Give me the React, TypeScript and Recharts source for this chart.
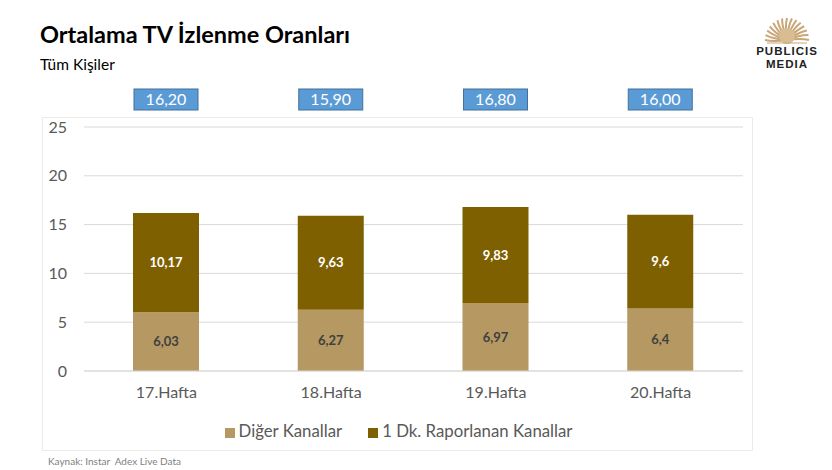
import React from "react";
import { BarChart, Bar, XAxis, YAxis, CartesianGrid, Legend, LabelList } from "recharts";

const weeks = ["17.Hafta", "18.Hafta", "19.Hafta", "20.Hafta"];
const digerKanallar = [6.03, 6.27, 6.97, 6.4];
const raporlananKanallar = [10.17, 9.63, 9.83, 9.6];
const toplam = [16.2, 15.9, 16.8, 16.0];
const yTicks = [0, 5, 10, 15, 20, 25];

const FONT = "Lato, 'Open Sans', sans-serif";

const data = weeks.map((w, i) => ({
  week: w,
  diger: digerKanallar[i],
  dk: raporlananKanallar[i],
  total: toplam[i],
}));

const comma = (v: any) => String(v).replace(".", ",");

// blue total box drawn above each column, on a fixed row
function TotalBox(props: any) {
  const { x, width, value } = props;
  const cx = x + width / 2;
  const w = 64;
  const h = 21;
  const y = 9;
  return (
    <g>
      <rect x={cx - w / 2} y={y} width={w} height={h} fill="#5B9BD5" stroke="#41719C" strokeWidth={1} />
      <text x={cx} y={y + h / 2 + 1} textAnchor="middle" dominantBaseline="middle" fill="#fff" fontSize={16} fontFamily={FONT}>
        {Number(value).toFixed(2).replace(".", ",")}
      </text>
    </g>
  );
}

function Logo() {
  const rays = Array.from({ length: 15 }, (_, i) => i);
  return (
    <div style={{ position: "absolute", left: 745, top: 10, width: 84, textAlign: "center" }}>
      <svg width={50} height={34} style={{ display: "block", margin: "0 auto" }}>
        {rays.map((i) => {
          const a = Math.PI + (Math.PI * i) / 14;
          return (
            <path
              key={i}
              d={`M25 30 Q${25 + Math.cos(a - 0.15) * 14} ${30 + Math.sin(a - 0.15) * 14} ${25 + Math.cos(a) * 22} ${30 + Math.sin(a) * 22}`}
              stroke="#C9A676"
              strokeWidth={2}
              fill="none"
            />
          );
        })}
        <circle cx={25} cy={26} r={8} fill="#D8BC92" />
        <line x1={5} y1={33} x2={45} y2={33} stroke="#C9A676" strokeWidth={1} />
      </svg>
      <div style={{ fontFamily: "'Liberation Sans', Arial, sans-serif", fontWeight: 700, fontSize: 11.5, letterSpacing: 1, color: "#222", lineHeight: "13px", marginTop: 1 }}>
        PUBLICIS
        <br />
        MEDIA
      </div>
    </div>
  );
}

export default function App() {
  return (
    <div style={{ position: "absolute", left: 0, top: 0, width: 832, height: 470, background: "#fff", fontFamily: FONT }}>
      <div style={{ position: "absolute", left: 40, top: 20, fontSize: 23.5, fontWeight: 700, color: "#000" }}>
        Ortalama TV İzlenme Oranları
      </div>
      <div style={{ position: "absolute", left: 40, top: 55, fontSize: 15.5, color: "#000" }}>Tüm Kişiler</div>
      <Logo />
      <div style={{ position: "absolute", left: 42, top: 117, width: 709, height: 332, border: "1px solid #EBEBEB" }} />
      <div style={{ position: "absolute", left: 42, top: 80 }}>
        <BarChart width={710} height={370} data={data} margin={{ top: 47, right: 9, left: 0, bottom: 49 }}>
          <CartesianGrid vertical={false} stroke="#D9D9D9" />
          <XAxis
            dataKey="week"
            height={30}
            axisLine={{ stroke: "#D9D9D9" }}
            tickLine={false}
            tickSize={0}
            tickMargin={16}
            tick={{ fill: "#595959", fontSize: 16, fontFamily: FONT }}
          />
          <YAxis
            width={42}
            domain={[0, 25]}
            ticks={yTicks}
            axisLine={false}
            tickLine={false}
            tickSize={0}
            tickMargin={17}
            tick={{ fill: "#595959", fontSize: 16, fontFamily: FONT }}
          />
          <Legend
            layout="horizontal"
            verticalAlign="middle"
            align="center"
            iconType="square"
            iconSize={10}
            itemSorter={(item: any) => (item.dataKey === "diger" ? 0 : 1)}
            wrapperStyle={{ top: 340, paddingLeft: 38, boxSizing: "border-box", fontFamily: FONT, fontSize: 16.8 }}
            formatter={(v: any) => <span style={{ color: "#595959", marginRight: 16 }}>{v}</span>}
          />
          <Bar dataKey="diger" name="Diğer Kanallar" stackId="a" fill="#B59862" barSize={66} isAnimationActive={false}>
            <LabelList dataKey="diger" position="center" formatter={comma} fill="#404040" fontSize={13} fontWeight={700} fontFamily={FONT} />
          </Bar>
          <Bar dataKey="dk" name="1 Dk. Raporlanan Kanallar" stackId="a" fill="#7F6000" barSize={66} isAnimationActive={false}>
            <LabelList dataKey="dk" position="center" formatter={comma} fill="#fff" fontSize={13} fontWeight={700} fontFamily={FONT} />
            <LabelList dataKey="total" content={<TotalBox />} />
          </Bar>
        </BarChart>
      </div>
      <div style={{ position: "absolute", left: 48, top: 455, fontSize: 10, color: "#7F7F7F" }}>Kaynak: Instar&nbsp; Adex Live Data</div>
    </div>
  );
}
